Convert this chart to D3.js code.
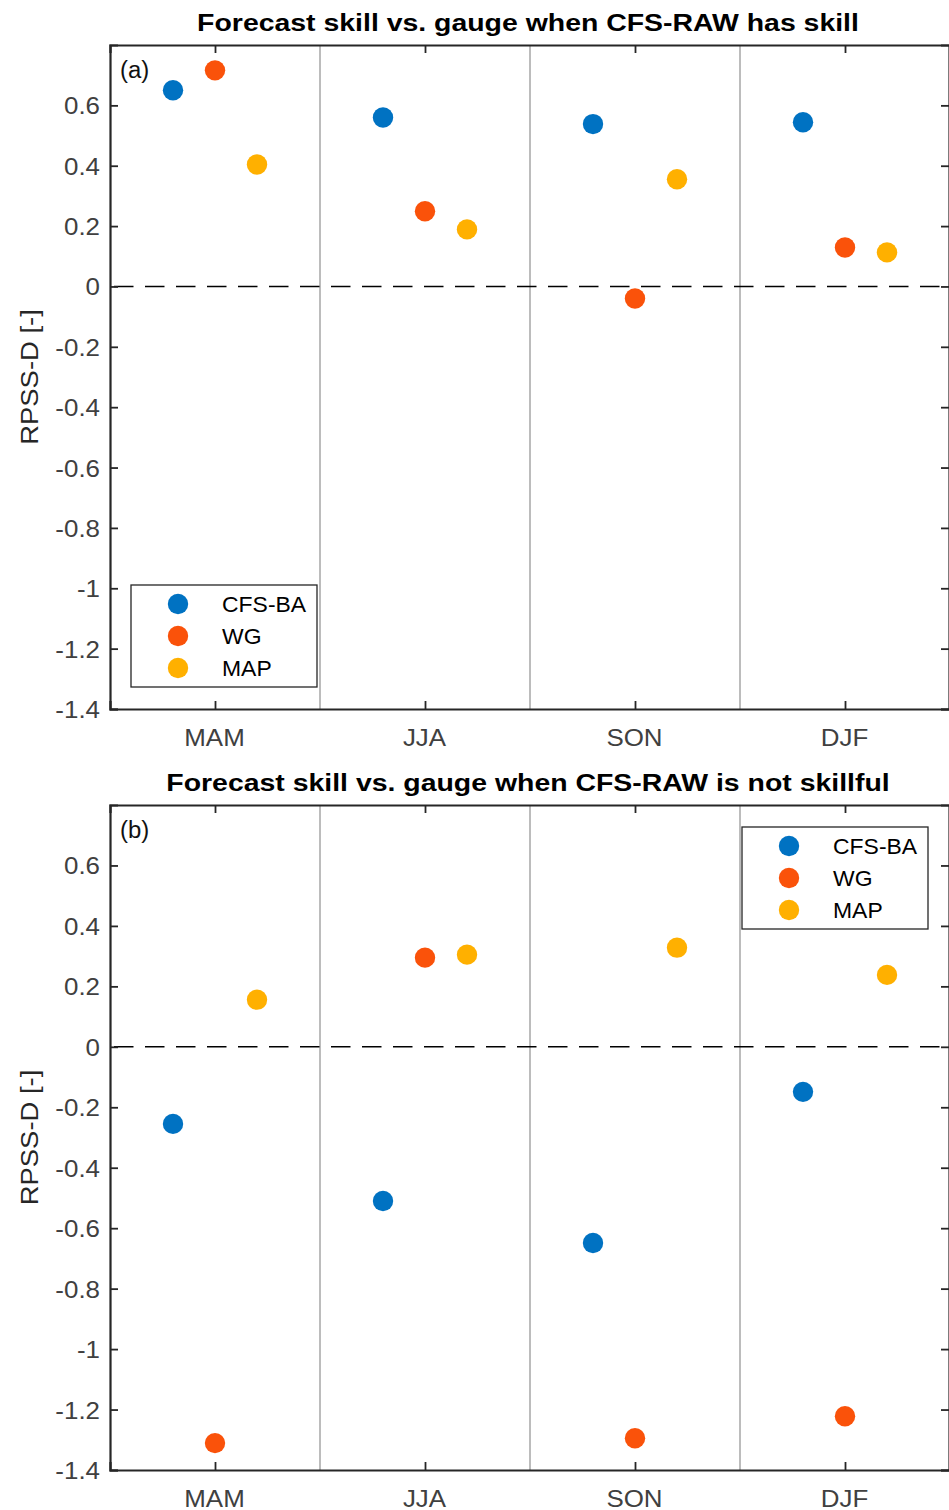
<!DOCTYPE html>
<html>
<head>
<meta charset="utf-8">
<script src="https://cdn.jsdelivr.net/npm/d3@7"></script>
<style>
  html, body { margin: 0; padding: 0; background: #fff; }
  svg { display: block; font-family: "Liberation Sans", Arial, sans-serif; }
</style>
</head>
<body>
<svg id="chart" width="949" height="1510"></svg>
<script>
// Seasons on the x axis
const seasons = ["MAM", "JJA", "SON", "DJF"];
const seriesNames = ["CFS-BA", "WG", "MAP"];
const seriesColors = ["#0072C2", "#FA520A", "#FFB000"];
// Horizontal offset of each series within a season slot
const seriesOffsets = [-0.2, 0, 0.2];

// RPSS-D when CFS-RAW has skill
const skillCFSBA = [0.650, 0.560, 0.538, 0.544];
const skillWG    = [0.716, 0.249, -0.040, 0.129];
const skillMAP   = [0.404, 0.189, 0.355, 0.113];

// RPSS-D when CFS-RAW is not skillful
const noSkillCFSBA = [-0.255, -0.510, -0.649, -0.149];
const noSkillWG    = [-1.311, 0.295, -1.295, -1.222];
const noSkillMAP   = [0.156, 0.305, 0.328, 0.238];

const yTicks = [-1.4, -1.2, -1, -0.8, -0.6, -0.4, -0.2, 0, 0.2, 0.4, 0.6];
const yDomain = [-1.4, 0.8];

const panels = [
  { tag: "(a)", title: "Forecast skill vs. gauge when CFS-RAW has skill",
    series: [skillCFSBA, skillWG, skillMAP], top: 45, bottom: 709,
    legend: { x: 131, y: 585 } },
  { tag: "(b)", title: "Forecast skill vs. gauge when CFS-RAW is not skillful",
    series: [noSkillCFSBA, noSkillWG, noSkillMAP], top: 805, bottom: 1470,
    legend: { x: 742, y: 827 } }
];

const svg = d3.select("#chart");
const left = 110, right = 950;
const axisColor = "#262626";
const tickLen = 8;

// Text helper with a slight horizontal stretch to mimic the wider glyphs
function addText(g, x, y, str, opts) {
  const sx = opts.sx || 1;
  const rot = opts.rotate ? ` rotate(${opts.rotate})` : "";
  return g.append("text")
    .attr("transform", `translate(${x},${y})${rot} scale(${sx},1)`)
    .attr("text-anchor", opts.anchor || "start")
    .attr("font-size", opts.size)
    .attr("font-weight", opts.weight || "normal")
    .attr("fill", opts.fill || axisColor)
    .text(str);
}

panels.forEach(p => {
  const g = svg.append("g");
  const x = d3.scaleLinear().domain([0.5, seasons.length + 0.5]).range([left, right]);
  const y = d3.scaleLinear().domain(yDomain).range([p.bottom, p.top]);

  // Season separators
  g.selectAll("line.sep").data(d3.range(1, seasons.length)).join("line")
    .attr("x1", d => x(d + 0.5)).attr("x2", d => x(d + 0.5))
    .attr("y1", p.top).attr("y2", p.bottom)
    .attr("stroke", "#a6a6a6").attr("stroke-width", 1.5);

  // Zero reference line
  g.append("line")
    .attr("x1", left).attr("x2", right)
    .attr("y1", y(0)).attr("y2", y(0))
    .attr("stroke", "#000").attr("stroke-width", 1.5)
    .attr("stroke-dasharray", "19.5,11.5")
    .attr("stroke-dashoffset", -4);

  // Axes: left with labels, right mirror, bottom with labels, top mirror
  const yAxisL = d3.axisLeft(y).tickValues(yTicks).tickSize(-tickLen).tickPadding(12)
    .tickFormat(d => d3.format("")(+d.toFixed(1)).replace("−", "-"));
  const gl = g.append("g").attr("transform", `translate(${left},0)`).call(yAxisL);
  const gr = g.append("g").attr("transform", `translate(${right - 1},0)`)
    .call(d3.axisRight(y).tickValues(yTicks).tickSize(-tickLen).tickFormat(""));
  const gb = g.append("g").attr("transform", `translate(0,${p.bottom})`)
    .call(d3.axisBottom(x).tickValues(d3.range(1, seasons.length + 1)).tickSize(-tickLen)
      .tickFormat(d => seasons[d - 1]));
  const gt = g.append("g").attr("transform", `translate(0,${p.top})`)
    .call(d3.axisTop(x).tickValues(d3.range(1, seasons.length + 1)).tickSize(-tickLen).tickFormat(""));

  [gl, gr, gb, gt].forEach(a => {
    a.select(".domain").attr("stroke", axisColor).attr("stroke-width", 2.2);
    a.selectAll(".tick line").attr("stroke", axisColor).attr("stroke-width", 1.8);
  });
  gl.selectAll(".tick text")
    .attr("font-size", 24).attr("fill", "#404040").attr("font-family", "Liberation Sans, Arial, sans-serif")
    .attr("x", null).attr("dy", null)
    .attr("transform", "translate(-10,8.5) scale(1.08,1)");
  gb.selectAll(".tick text")
    .attr("font-size", 24).attr("fill", "#404040").attr("font-family", "Liberation Sans, Arial, sans-serif")
    .attr("y", null).attr("dy", null)
    .attr("transform", "translate(-1,37) scale(1.08,1)");

  // Points
  p.series.forEach((vals, si) => {
    g.selectAll(null).data(vals).join("circle")
      .attr("cx", (d, i) => x(i + 1 + seriesOffsets[si]))
      .attr("cy", d => y(d))
      .attr("r", 10.2)
      .attr("fill", seriesColors[si]);
  });

  // Panel tag
  addText(g, left + 10, p.top + 33, p.tag, { size: 23, sx: 1.04, fill: "#111" });

  // Title
  addText(svg, (left + right) / 2 - 2, p.top - 14, p.title,
    { size: 24, weight: "bold", anchor: "middle", sx: 1.185, fill: "#000" });

  // Y axis label
  addText(svg, 38, (p.top + p.bottom) / 2, "RPSS-D [-]",
    { size: 24.5, anchor: "middle", rotate: -90, sx: 1.12, fill: "#262626" });

  // Legend
  const lg = g.append("g").attr("transform", `translate(${p.legend.x},${p.legend.y})`);
  lg.append("rect").attr("x", 0).attr("y", 0).attr("width", 186).attr("height", 102)
    .attr("fill", "#fff").attr("stroke", axisColor).attr("stroke-width", 1.3);
  seriesNames.forEach((name, si) => {
    lg.append("circle").attr("cx", 47).attr("cy", 19 + si * 32).attr("r", 10.2)
      .attr("fill", seriesColors[si]);
    addText(lg, 91, 19 + si * 32 + 8, name, { size: 22.5, sx: 1.02, fill: "#000" });
  });
});
</script>
</body>
</html>
